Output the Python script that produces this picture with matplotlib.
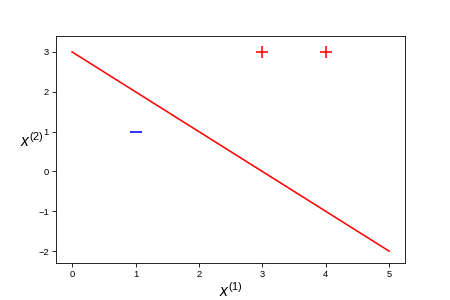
import matplotlib
matplotlib.use("Agg")
import matplotlib.pyplot as plt
import numpy as np

plt.rcParams['font.family'] = ['Liberation Sans', 'DejaVu Sans']
plt.rcParams['mathtext.fontset'] = 'custom'
plt.rcParams['mathtext.it'] = 'Liberation Sans:italic'
plt.rcParams['mathtext.rm'] = 'Liberation Sans'

pos_x = [3, 4]
pos_y = [3, 3]
neg_x = [1]
neg_y = [1]
line_x = [0, 5]
line_y = [3, -2]

fig, ax = plt.subplots(figsize=(6, 4), dpi=75)
fig.subplots_adjust(left=0.125, right=0.9, top=0.88, bottom=0.123)
ax.plot(line_x, line_y, color='r', lw=1.5)
ax.plot(pos_x, pos_y, 'r+', markersize=12, mew=1.5)
ax.plot(neg_x, neg_y, 'b_', markersize=12, mew=1.5)
ax.set_ylim(-2.3, 3.4)
ax.set_xlabel(r'$x^{(1)}$', fontsize=15, labelpad=2)
ax.set_ylabel(r'$x^{(2)}$', fontsize=15, rotation=0, labelpad=6)
ax.tick_params(labelsize=9)
fig.savefig('out.png', dpi=75)
